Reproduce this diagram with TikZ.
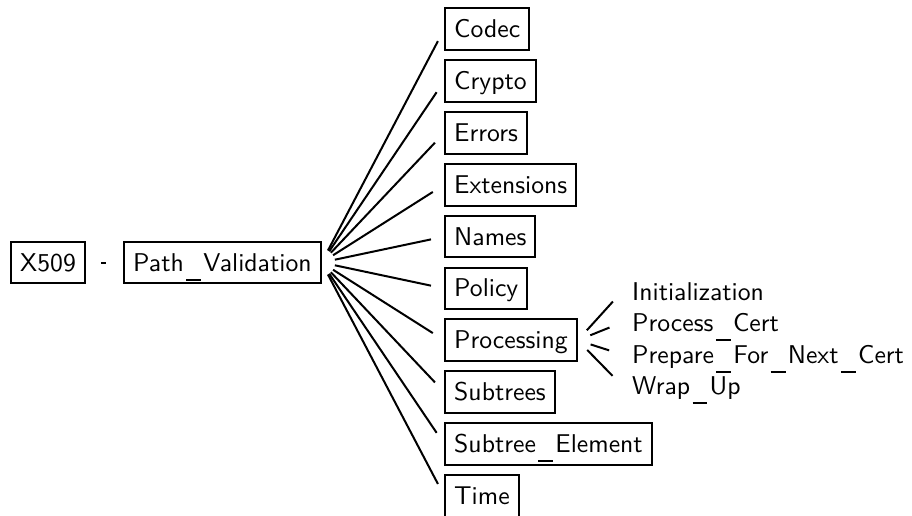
\documentclass[tikz,border=0pt]{standalone}
\usepackage{graphicx}
\newcommand{\lbl}[1]{\scalebox{2.57}{\fontsize{10}{12}\selectfont\sffamily #1}}
\newcommand{\us}{\kern0.9pt\rule[-3.8pt]{5.8pt}{0.85pt}\kern0.9pt}
\begin{document}
\begin{tikzpicture}[x=1pt,y=-1pt,
  box/.style={draw, line width=2pt, inner xsep=9pt, inner ysep=0pt, text height=17pt, text depth=0pt, minimum height=41.7pt, anchor=west},
  leaf/.style={inner xsep=10pt, inner ysep=0pt, text height=17pt, text depth=0pt, anchor=base west},
  conn/.style={line width=2pt, shorten <=13.5pt, shorten >=13.5pt}]
\useasboundingbox (0,0) rectangle (912,516);
\node[box] (x509) at (10.2,262.5) {\lbl{X509}};
\node[box] (pv) at (123.2,262.5) {\lbl{Path\us Validation}};
\draw[line width=2pt, shorten <=15.4pt, shorten >=17.3pt] (x509.east) -- (pv.west);
\foreach \n/\t [count=\i from 0] in {codec/Codec, crypto/Crypto, errors/Errors, ext/Extensions, names/Names, policy/Policy, proc/Processing, subtrees/Subtrees, subel/Subtree\us Element, time/Time}{
  \node[box] (\n) at (444.2,29.15+\i*51.86) {\lbl{\t}};
  \draw[conn] (pv.east) -- (\n.west);
}
\node[leaf] (init) at (622,300) {\lbl{Initialization}};
\node[leaf] (pcert) at (622,331) {\lbl{Process\us Cert}};
\node[leaf] (pnext) at (622,363) {\lbl{Prepare\us For\us Next\us Cert}};
\node[leaf] (wrap) at (622,394) {\lbl{Wrap\us Up}};
\foreach \n in {init,pcert,pnext,wrap}{
  \draw[conn] (proc.east) -- (\n.west);
}
\end{tikzpicture}
\end{document}
